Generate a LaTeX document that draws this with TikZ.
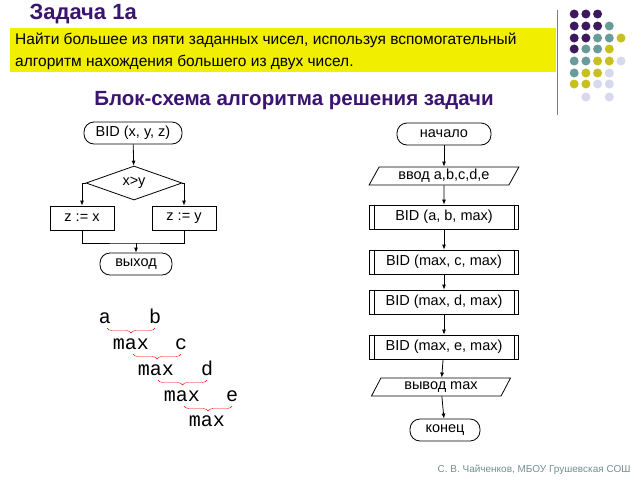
\documentclass[tikz,border=0pt]{standalone}
\usepackage{fontspec}
\setmainfont{Liberation Sans}
\newfontfamily\monof{Liberation Mono}
\usetikzlibrary{shapes.geometric,decorations.pathreplacing,arrows.meta}
\definecolor{dP}{HTML}{3D1A5E}
\definecolor{dT}{HTML}{6A9B9B}
\definecolor{dY}{HTML}{C8C020}
\definecolor{dL}{HTML}{D8D8EC}
\definecolor{ttl}{HTML}{3A1470}
\definecolor{ban}{HTML}{F2EE00}
\begin{document}
\begin{tikzpicture}[x=1pt,y=-1pt,
  term/.style={draw,thick,rounded corners=10pt,minimum height=22pt,font=\fontsize{14.5}{15}\selectfont,inner sep=2pt},
  proc/.style={draw,thick,minimum height=24pt,font=\fontsize{14.5}{15}\selectfont},
  sub/.style={draw,thick,minimum width=149pt,minimum height=24pt,font=\fontsize{14.5}{15}\selectfont},
  io/.style={draw,thick,trapezium,trapezium left angle=65,trapezium right angle=115,trapezium stretches=true,minimum height=18pt,inner sep=1pt,font=\fontsize{14.5}{15}\selectfont},
  dec/.style={draw,thick,diamond,aspect=2.8,inner sep=0pt,minimum width=96pt,minimum height=34pt,font=\fontsize{14.5}{15}\selectfont},
  arr/.style={thick,-{Latex[length=5pt,width=4pt]}},
  mono/.style={font=\monof\fontsize{20}{20}\selectfont,inner sep=0pt,anchor=base},
  br/.style={red,thin,decorate,decoration={brace,mirror,amplitude=5pt}}]
\useasboundingbox (0,0) rectangle (640,480);
\fill[white] (0,0) rectangle (640,480);
% header
\node[anchor=west,text=ttl,font=\bfseries\fontsize{22}{24}\selectfont] (title) at (26,14) {Задача 1а};
\fill[ban] (10,28) rectangle (556,72);
\node[anchor=north west,align=left,font=\fontsize{15.5}{22}\selectfont,inner sep=0pt] (task) at (15,33) {Найти большее из пяти заданных чисел, используя вспомогательный\\алгоритм нахождения большего из двух чисел.};
\draw[gray,thick] (557,10) -- (557,115);
\foreach \r/\cols in {14/{1/dP,2/dP,3/dP},26/{1/dP,2/dP,3/dP,4/dT},38/{1/dP,2/dP,3/dT,4/dT,5/dY},49/{1/dP,2/dT,3/dT,4/dY},61/{1/dT,2/dT,3/dY,4/dY,5/dL},73/{1/dT,2/dY,3/dY,4/dL},84/{1/dY,2/dY,3/dL,4/dL},97/{2/dL,4/dL}}{
  \foreach \c/\col in \cols { \fill[\col] ({562.5+11.7*\c},\r) circle (4.5pt); }}
\node[text=ttl,font=\bfseries\fontsize{20.5}{21}\selectfont] (sub) at (294,101) {Блок-схема алгоритма решения задачи};
% left chart
\node[term,minimum width=98pt] (bid) at (133,133) {BID (x, y, z)};
\node[dec] (d) at (134,183) {x>y};
\node[proc,minimum width=64pt] (zx) at (82,218) {z := x};
\node[proc,minimum width=64pt] (zy) at (184,218) {z := y};
\node[term,minimum width=72pt] (ex) at (136,264) {выход};
\coordinate (j) at (136,243);
\draw[arr] (bid) -- (d);
\draw[arr] (d.west) -| (zx.north);
\draw[arr] (d.east) -| (zy.north);
\draw[thick] (zx.south) |- (j) -| (zy.south);
\draw[arr] (j) -- (ex);
% right chart
\node[term,minimum width=94pt] (st) at (444,134) {начало};
\node[io,minimum width=150pt] (in) at (444,176) {ввод a,b,c,d,e};
\node[sub] (s1) at (444,217) {BID (a, b, max)};
\node[sub] (s2) at (444,262) {BID (max, c, max)};
\node[sub] (s3) at (444,302) {BID (max, d, max)};
\node[sub] (s4) at (444,347) {BID (max, e, max)};
\node[io,minimum width=140pt] (out) at (441,387) {вывод max};
\node[term,minimum width=70pt] (en) at (445,430) {конец};
\foreach \s in {s1,s2,s3,s4}{
  \draw[thick] ([xshift=5pt]\s.north west) -- ([xshift=5pt]\s.south west);
  \draw[thick] ([xshift=-5pt]\s.north east) -- ([xshift=-5pt]\s.south east);}
\draw[arr] (st) -- (in);
\draw[arr] (in) -- (s1);
\draw[arr] (s1) -- (s2);
\draw[arr] (s2) -- (s3);
\draw[arr] (s3) -- (s4);
\draw[arr] (s4) -- (out);
\draw[arr] (out) -- (en);
% braces
\node[mono] (a) at (105,323) {a};
\node[mono] (b) at (155,323) {b};
\node[mono] (m1) at (131,349) {max};
\node[mono] (c) at (181,349) {c};
\node[mono] (m2) at (156,375) {max};
\node[mono] (d2) at (207,375) {d};
\node[mono] (m3) at (182,401) {max};
\node[mono] (e) at (232,401) {e};
\node[mono] (m4) at (207,426) {max};
\draw[br] (107,328) -- (155,328);
\draw[br] (133,354) -- (181,354);
\draw[br] (158,380) -- (207,380);
\draw[br] (184,406) -- (232,406);
% footer
\node[anchor=east,text=dT!60!gray,font=\fontsize{10}{11}\selectfont] (ft) at (634,470) {С. В. Чайченков, МБОУ Грушевская СОШ};
\end{tikzpicture}
\end{document}
